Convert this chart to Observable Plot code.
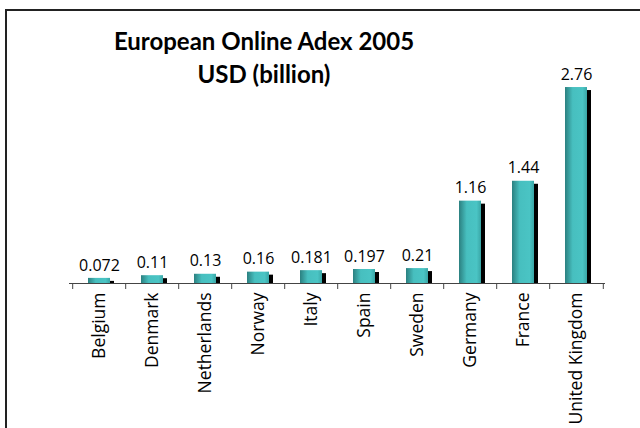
<!DOCTYPE html>
<html>
<head>
<meta charset="utf-8">
<script src="https://cdn.jsdelivr.net/npm/d3@7"></script>
<script src="https://cdn.jsdelivr.net/npm/@observablehq/plot@0.6"></script>
<style>
  html, body { margin: 0; padding: 0; background: #fff; }
  #hline { position: absolute; left: 5px; top: 9px; width: 635px; height: 2px; background: #222; }
  #vline { position: absolute; left: 5px; top: 9px; width: 2px; height: 419px; background: #222; }
  #title { position: absolute; left: 0; top: 24px; width: 528px; text-align: center; font-family: Lato, "Open Sans", sans-serif; font-weight: 700; font-size: 24px; line-height: 33px; color: #000; z-index: 2; }
  #chart { position: absolute; left: 0; top: 0; z-index: 1; }
</style>
</head>
<body>
<div id="hline"></div>
<div id="vline"></div>
<div id="title">European Online Adex 2005<br>USD (billion)</div>
<div id="chart"></div>
<script>
const countries = ["Belgium","Denmark","Netherlands","Norway","Italy","Spain","Sweden","Germany","France","United Kingdom"];
const values = [0.072, 0.11, 0.13, 0.16, 0.181, 0.197, 0.21, 1.16, 1.44, 2.76];
const valueLabels = ["0.072","0.11","0.13","0.16","0.181","0.197","0.21","1.16","1.44","2.76"];

const data = countries.map((c, i) => ({country: c, value: values[i], label: valueLabels[i]}));
const lastCountry = [countries[countries.length - 1]];
const halfStep = (640 - 69 - 35) / countries.length / 2;

const chart = Plot.plot({
  width: 640,
  height: 428,
  marginLeft: 69,
  marginRight: 35,
  marginTop: 70,
  marginBottom: 145,
  style: {background: "transparent", fontFamily: "'Open Sans', sans-serif"},
  x: {domain: countries, paddingInner: 0.59, paddingOuter: 0.295, label: null},
  y: {domain: [0, 3], axis: null},
  marks: [
    Plot.barY(data, {x: "country", y: "value", fill: "#000", dx: 4, insetTop: 3}),
    Plot.barY(data, {x: "country", y: "value", fill: "#48c2c2"}),
    Plot.ruleY([0], {stroke: "#444", strokeWidth: 1.2}),
    Plot.axisX({tickSize: 6, tickFormat: null, dx: -halfStep, stroke: "#444"}),
    Plot.axisX(lastCountry, {tickSize: 6, tickFormat: null, dx: halfStep, stroke: "#444"}),
    Plot.axisX({tickSize: 0, tickPadding: 9, tickRotate: -90, fontSize: 17.5, fill: "#000"}),
    Plot.text(data, {x: "country", y: "value", text: "label", dy: -13, fontSize: 16, fill: "#000"})
  ]
});

document.getElementById("chart").appendChild(chart);

// gradient fill for cylinder-like bars
const svg = d3.select(chart);
const defs = svg.insert("defs", ":first-child");
const grad = defs.append("linearGradient").attr("id", "tealGrad").attr("x1", "0").attr("x2", "1").attr("y1", "0").attr("y2", "0");
[["0%", "#2b8080"], ["35%", "#47bfbf"], ["80%", "#4ac4c4"], ["100%", "#3aa6a6"]].forEach(([o, c]) => grad.append("stop").attr("offset", o).attr("stop-color", c));
const bars = svg.selectAll("g[aria-label='bar']").nodes();
if (bars.length > 1) d3.select(bars[1]).attr("fill", "url(#tealGrad)").selectAll("rect").attr("fill", "url(#tealGrad)");
</script>
</body>
</html>
